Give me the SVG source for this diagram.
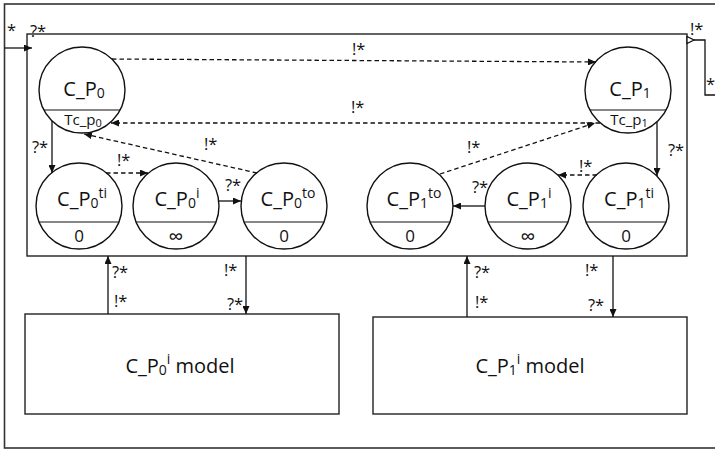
<svg xmlns="http://www.w3.org/2000/svg" width="715" height="450" viewBox="0 0 715 450">
  <defs>
    <style>
      text { font-family: "Open Sans", "Noto Sans", "Liberation Sans", sans-serif; fill: #111; }
      .frame { fill: none; stroke: #333; stroke-width: 1.6; }
      .box { fill: #fff; stroke: #222; stroke-width: 1.4; }
      .state circle { fill: #fff; stroke: #111; stroke-width: 1.4; }
      .state line { stroke: #111; stroke-width: 1.2; }
      .name { font-size: 20px; text-anchor: middle; }
      .sub { font-size: 14px; }
      .val { font-size: 17px; text-anchor: middle; }
      .inf { font-size: 21px; text-anchor: middle; }
      .lbl { font-size: 16.5px; }
      .solid { fill: none; stroke: #111; stroke-width: 1.3; }
      .dash { fill: none; stroke: #111; stroke-width: 1.3; stroke-dasharray: 4.5 3; }
      .mtext { font-size: 20px; text-anchor: middle; }
    </style>
    <marker id="arr" markerUnits="userSpaceOnUse" markerWidth="8" markerHeight="7" refX="8" refY="3.5" orient="auto">
      <path d="M0,0 L8,3.5 L0,7 z" fill="#111"/>
    </marker>
  </defs>

  <rect width="715" height="450" fill="#fff"/>

  <!-- outer system frame (right edge runs off the page) -->
  <rect class="frame" x="4.5" y="4" width="720" height="444"/>

  <!-- coupled component boundary -->
  <g id="coupled">
    <rect class="box" x="27" y="34" width="660" height="222"/>
  </g>

  <!-- states -->
  <g id="C_P0" class="state">
    <circle cx="82" cy="90" r="43"/>
    <line x1="43.9" y1="110" x2="120.1" y2="110"/>
    <text class="name" x="84" y="96">C_P<tspan class="sub" dy="2">0</tspan></text>
    <text x="83" y="125" style="font-size:15px;text-anchor:middle">Tc_p<tspan style="font-size:11px" dy="2">0</tspan></text>
  </g>
  <g id="C_P1" class="state">
    <circle cx="628" cy="90" r="43"/>
    <line x1="589.9" y1="110" x2="666.1" y2="110"/>
    <text class="name" x="630" y="96">C_P<tspan class="sub" dy="2">1</tspan></text>
    <text x="629" y="125" style="font-size:15px;text-anchor:middle">Tc_p<tspan style="font-size:11px" dy="2">1</tspan></text>
  </g>

  <g id="C_P0ti" class="state">
    <circle cx="79" cy="206" r="43"/>
    <line x1="39.1" y1="222" x2="118.9" y2="222"/>
    <text class="name" x="82" y="206">C_P<tspan class="sub" dy="2">0</tspan><tspan class="sub" dy="-10">ti</tspan></text>
    <text class="val" x="79" y="242">0</text>
  </g>
  <g id="C_P0i" class="state">
    <circle cx="176" cy="206" r="43"/>
    <line x1="136.1" y1="222" x2="215.9" y2="222"/>
    <text class="name" x="177" y="206">C_P<tspan class="sub" dy="2">0</tspan><tspan class="sub" dy="-10">i</tspan></text>
    <text class="inf" x="176" y="244">∞</text>
  </g>
  <g id="C_P0to" class="state">
    <circle cx="284" cy="206" r="43"/>
    <line x1="244.1" y1="222" x2="323.9" y2="222"/>
    <text class="name" x="288" y="206">C_P<tspan class="sub" dy="2">0</tspan><tspan class="sub" dy="-10">to</tspan></text>
    <text class="val" x="284" y="242">0</text>
  </g>

  <g id="C_P1to" class="state">
    <circle cx="410" cy="206" r="43"/>
    <line x1="370.1" y1="222" x2="449.9" y2="222"/>
    <text class="name" x="414" y="206">C_P<tspan class="sub" dy="2">1</tspan><tspan class="sub" dy="-10">to</tspan></text>
    <text class="val" x="410" y="242">0</text>
  </g>
  <g id="C_P1i" class="state">
    <circle cx="528" cy="206" r="43"/>
    <line x1="488.1" y1="222" x2="567.9" y2="222"/>
    <text class="name" x="529" y="206">C_P<tspan class="sub" dy="2">1</tspan><tspan class="sub" dy="-10">i</tspan></text>
    <text class="inf" x="528" y="244">∞</text>
  </g>
  <g id="C_P1ti" class="state">
    <circle cx="626" cy="206" r="43"/>
    <line x1="586.1" y1="222" x2="665.9" y2="222"/>
    <text class="name" x="629" y="206">C_P<tspan class="sub" dy="2">1</tspan><tspan class="sub" dy="-10">ti</tspan></text>
    <text class="val" x="626" y="242">0</text>
  </g>

  <!-- atomic models -->
  <g id="C_P0i_model">
    <rect class="box" x="25" y="314" width="314" height="100"/>
    <text class="mtext" x="180" y="373">C_P<tspan style="font-size:14px" dy="2">0</tspan><tspan style="font-size:14px" dy="-11">i</tspan><tspan dy="9"> model</tspan></text>
  </g>
  <g id="C_P1i_model">
    <rect class="box" x="373" y="317" width="314" height="97"/>
    <text class="mtext" x="530" y="373">C_P<tspan style="font-size:14px" dy="2">1</tspan><tspan style="font-size:14px" dy="-11">i</tspan><tspan dy="9"> model</tspan></text>
  </g>

  <!-- couplings -->
  <g id="connectors">
    <!-- external input -->
    <line class="solid" x1="4.5" y1="48" x2="32" y2="48" marker-end="url(#arr)"/>
    <!-- external output -->
    <polygon points="687,36.5 687,43.5 694,40" fill="#fff" stroke="#111" stroke-width="1.3"/>
    <polyline class="solid" points="694,40 705,40 705,95 716,95"/>

    <!-- between top states -->
    <line class="dash" x1="112" y1="59" x2="596" y2="62" marker-end="url(#arr)"/>
    <line class="dash" x1="600" y1="123" x2="111" y2="123" marker-end="url(#arr)"/>
    <line class="dash" x1="257" y1="173" x2="84" y2="134" marker-end="url(#arr)"/>
    <line class="dash" x1="440" y1="174" x2="595" y2="123" marker-end="url(#arr)"/>

    <!-- left chain -->
    <line class="solid" x1="52" y1="121" x2="52" y2="173" marker-end="url(#arr)"/>
    <line class="dash" x1="106" y1="173" x2="148" y2="173" marker-end="url(#arr)"/>
    <line class="solid" x1="219" y1="201" x2="241" y2="201" marker-end="url(#arr)"/>

    <!-- right chain -->
    <line class="solid" x1="657" y1="122" x2="657" y2="176" marker-end="url(#arr)"/>
    <line class="dash" x1="597" y1="175" x2="558" y2="175" marker-end="url(#arr)"/>
    <line class="solid" x1="485" y1="206" x2="453" y2="206" marker-end="url(#arr)"/>

    <!-- to and from atomic models -->
    <line class="solid" x1="108" y1="314" x2="108" y2="256" marker-end="url(#arr)"/>
    <line class="solid" x1="246" y1="256" x2="246" y2="314" marker-end="url(#arr)"/>
    <line class="solid" x1="467" y1="317" x2="467" y2="256" marker-end="url(#arr)"/>
    <line class="solid" x1="613" y1="256" x2="613" y2="317" marker-end="url(#arr)"/>
  </g>

  <!-- port labels -->
  <g id="labels">
    <text class="lbl" x="7" y="36">*</text>
    <text class="lbl" x="30" y="37">?*</text>
    <text class="lbl" x="690" y="35">!*</text>
    <text class="lbl" x="706" y="90">*</text>

    <text class="lbl" x="352" y="55">!*</text>
    <text class="lbl" x="351" y="113">!*</text>
    <text class="lbl" x="204" y="150">!*</text>
    <text class="lbl" x="467" y="153">!*</text>

    <text class="lbl" x="32" y="153">?*</text>
    <text class="lbl" x="117" y="166">!*</text>
    <text class="lbl" x="225" y="191">?*</text>

    <text class="lbl" x="668" y="156">?*</text>
    <text class="lbl" x="579" y="172">!*</text>
    <text class="lbl" x="472" y="193">?*</text>

    <text class="lbl" x="112" y="278">?*</text>
    <text class="lbl" x="114" y="307">!*</text>
    <text class="lbl" x="224" y="276">!*</text>
    <text class="lbl" x="227" y="310">?*</text>

    <text class="lbl" x="474" y="278">?*</text>
    <text class="lbl" x="475" y="308">!*</text>
    <text class="lbl" x="585" y="276">!*</text>
    <text class="lbl" x="588" y="311">?*</text>
  </g>
</svg>
